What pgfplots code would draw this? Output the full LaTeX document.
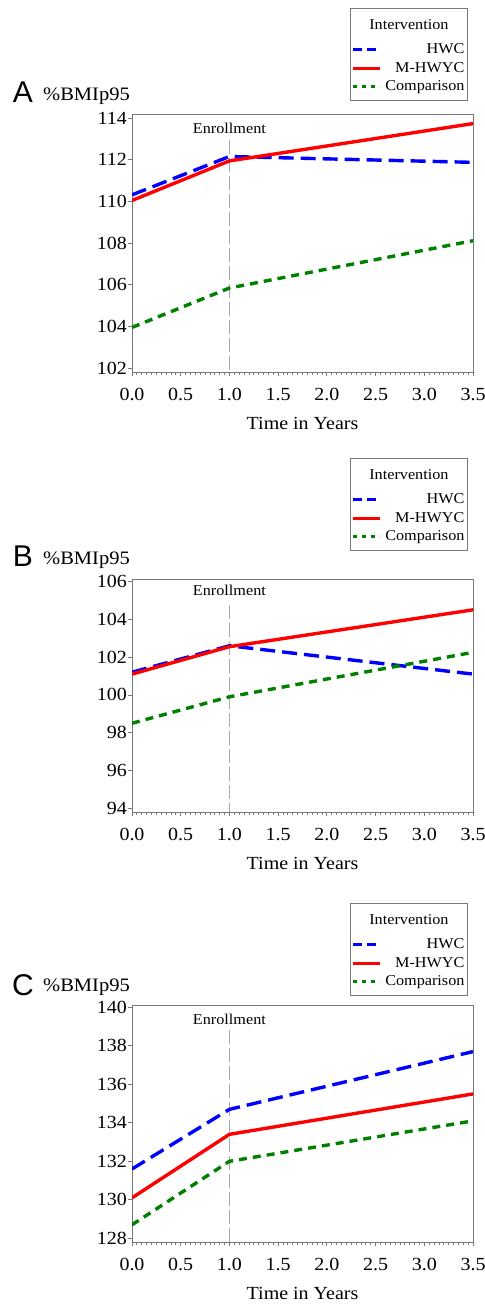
\documentclass[border=0pt]{standalone}
\usepackage{fontspec}
\setmainfont[FakeStretch=1.08]{Liberation Serif}
\newfontfamily\panelfont{Liberation Sans}
\usepackage{pgfplots}
\pgfplotsset{compat=1.18}

\definecolor{cblue}{RGB}{0,0,255}
\definecolor{cred}{RGB}{255,0,0}
\definecolor{cgreen}{RGB}{0,128,0}
\definecolor{axgray}{RGB}{120,120,120}
\definecolor{enrgray}{RGB}{170,170,170}

\pgfplotsset{
  panel/.style={
    scale only axis, width=341bp,
    xmin=0, xmax=3.5, xtick={0,0.5,1,1.5,2,2.5,3,3.5}, minor x tick num=9,
    ytick distance=2,
    axis line style={axgray, line width=1bp},
    every tick/.style={axgray, line width=0.8bp},
    tick align=outside, major tick length=4bp, minor tick length=2.5bp,
    xtick pos=lower, ytick pos=left,
    /pgf/number format/assume math mode=true,
    xticklabel style={/pgf/number format/fixed, /pgf/number format/fixed zerofill,
      /pgf/number format/precision=1, anchor=north, inner sep=0bp, yshift=-12bp,
      font=\fontsize{18.5bp}{20bp}\selectfont},
    yticklabel style={/pgf/number format/fixed, anchor=east, inner sep=0bp, xshift=-1bp,
      font=\fontsize{18.5bp}{20bp}\selectfont},
    xlabel={Time in Years},
    xlabel style={at={(axis description cs:0.5,0)}, anchor=center, yshift=-51bp,
      font=\fontsize{18.5bp}{20bp}\selectfont},
    legend cell align=right,
    legend image code/.code={\draw[##1] (0bp,0bp) -- (27bp,0bp);},
    legend style={anchor=north east, draw=axgray, line width=1bp,
      inner xsep=1bp, inner ysep=6bp, row sep=3bp, column sep=2bp,
      nodes={inner sep=2bp},
      font=\fontsize{15bp}{17bp}\selectfont},
  },
  hwc/.style={cblue, line width=3.4bp, dash pattern=on 15bp off 7bp},
  mh/.style={cred, line width=3.4bp},
  comp/.style={cgreen, line width=3.4bp, dash pattern=on 8bp off 6bp},
  enr/.style={enrgray, line width=1bp, dash pattern=on 14bp off 4bp, forget plot},
}

\newcommand{\legendentries}{%
  \addlegendimage{empty legend}
  \addlegendentry{\makebox[0pt][r]{\raisebox{6bp}{Intervention}\rule{0pt}{19bp}\hspace*{16bp}}}
  \addlegendimage{cblue, line width=3bp, dash pattern=on 9bp off 5bp}
  \addlegendentry{HWC}
  \addlegendimage{cred, line width=3bp}
  \addlegendentry{M-HWYC}
  \addlegendimage{cgreen, line width=3bp, dash pattern=on 4bp off 5bp}
  \addlegendentry{Comparison}
}

\begin{document}
\begin{tikzpicture}
\path[use as bounding box] (0bp,0bp) rectangle (485bp,-1305bp);

% ---------------- Panel A ----------------
\begin{axis}[panel, at={(132bp,-372bp)}, anchor=south west, height=258bp,
  ymin=101.82, ymax=114.2,
  legend style={at={(0.9853,1.4109)}}]
\legendentries
\addplot[enr] coordinates {(1,112.95) (1,101.82)};
\addplot[hwc, forget plot] coordinates {(0,110.32) (1,112.16) (3.5,111.88)};
\addplot[mh, forget plot] coordinates {(0,110.05) (1,111.95) (3.5,113.74)};
\addplot[comp, forget plot] coordinates {(0,103.96) (1,105.85) (3.5,108.12)};
\node[font=\fontsize{15bp}{17bp}\selectfont] at (axis cs:1,113.53) {Enrollment};
\end{axis}
\node[font=\panelfont\fontsize{30bp}{30bp}\selectfont, anchor=base] at (23bp,-102bp) {A};
\node[font=\fontsize{19bp}{20bp}\selectfont, anchor=base west, inner sep=0bp] at (43bp,-100bp) {\%BMIp95};

% ---------------- Panel B ----------------
\begin{axis}[panel, at={(132bp,-812.3bp)}, anchor=south west, height=233.3bp,
  ymin=93.79, ymax=106.13,
  legend style={at={(0.9853,1.5186)}}]
\legendentries
\addplot[enr] coordinates {(1,104.75) (1,93.79)};
\addplot[hwc, forget plot] coordinates {(0,101.2) (1,102.6) (3.5,101.1)};
\addplot[mh, forget plot] coordinates {(0,101.1) (1,102.55) (3.5,104.5)};
\addplot[comp, forget plot] coordinates {(0,98.5) (1,99.9) (3.5,102.25)};
\node[font=\fontsize{15bp}{17bp}\selectfont] at (axis cs:1,105.51) {Enrollment};
\end{axis}
\node[font=\panelfont\fontsize{30bp}{30bp}\selectfont, anchor=base] at (23bp,-566bp) {B};
\node[font=\fontsize{19bp}{20bp}\selectfont, anchor=base west, inner sep=0bp] at (43bp,-564bp) {\%BMIp95};

% ---------------- Panel C ----------------
\begin{axis}[panel, at={(132bp,-1242.3bp)}, anchor=south west, height=237.3bp,
  ymin=127.79, ymax=140.12,
  legend style={at={(0.9853,1.4298)}}]
\legendentries
\addplot[enr] coordinates {(1,138.82) (1,127.79)};
\addplot[hwc, forget plot] coordinates {(0,131.6) (1,134.7) (3.5,137.7)};
\addplot[mh, forget plot] coordinates {(0,130.1) (1,133.4) (3.5,135.5)};
\addplot[comp, forget plot] coordinates {(0,128.7) (1,132.0) (3.5,134.1)};
\node[font=\fontsize{15bp}{17bp}\selectfont] at (axis cs:1,139.39) {Enrollment};
\end{axis}
\node[font=\panelfont\fontsize{30bp}{30bp}\selectfont, anchor=base] at (23bp,-995bp) {C};
\node[font=\fontsize{19bp}{20bp}\selectfont, anchor=base west, inner sep=0bp] at (43bp,-991bp) {\%BMIp95};
\end{tikzpicture}
\end{document}
